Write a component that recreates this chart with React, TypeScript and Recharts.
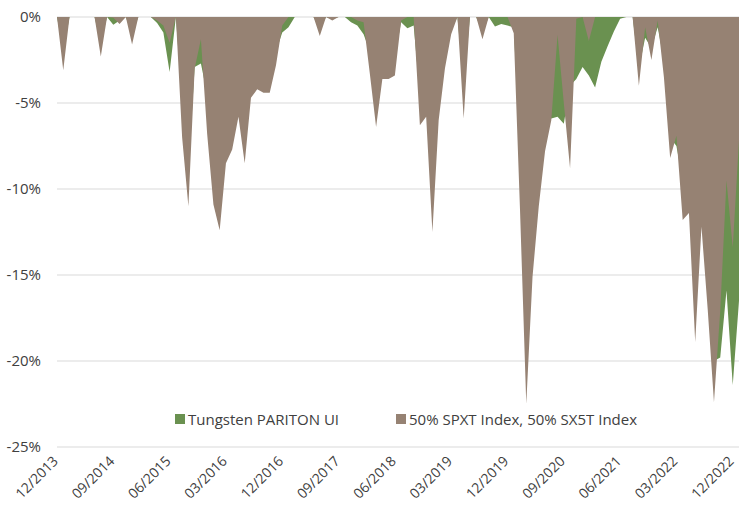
import React from 'react';
import { AreaChart, Area, XAxis, YAxis, CartesianGrid, Legend } from 'recharts';

const dates = [
  '12/2013',
  '01/2014', '02/2014', '03/2014', '04/2014', '05/2014', '06/2014', '07/2014', '08/2014', '09/2014', '10/2014', '11/2014', '12/2014',
  '01/2015', '02/2015', '03/2015', '04/2015', '05/2015', '06/2015', '07/2015', '08/2015', '09/2015', '10/2015', '11/2015', '12/2015',
  '01/2016', '02/2016', '03/2016', '04/2016', '05/2016', '06/2016', '07/2016', '08/2016', '09/2016', '10/2016', '11/2016', '12/2016',
  '01/2017', '02/2017', '03/2017', '04/2017', '05/2017', '06/2017', '07/2017', '08/2017', '09/2017', '10/2017', '11/2017', '12/2017',
  '01/2018', '02/2018', '03/2018', '04/2018', '05/2018', '06/2018', '07/2018', '08/2018', '09/2018', '10/2018', '11/2018', '12/2018',
  '01/2019', '02/2019', '03/2019', '04/2019', '05/2019', '06/2019', '07/2019', '08/2019', '09/2019', '10/2019', '11/2019', '12/2019',
  '01/2020', '02/2020', '03/2020', '04/2020', '05/2020', '06/2020', '07/2020', '08/2020', '09/2020', '10/2020', '11/2020', '12/2020',
  '01/2021', '02/2021', '03/2021', '04/2021', '05/2021', '06/2021', '07/2021', '08/2021', '09/2021', '10/2021', '11/2021', '12/2021',
  '01/2022', '02/2022', '03/2022', '04/2022', '05/2022', '06/2022', '07/2022', '08/2022', '09/2022', '10/2022', '11/2022', '12/2022',
  '01/2023',
];

// Tungsten PARITON UI drawdown (%)
const pariton = [
  0,
  -2.0, 0, 0, 0, 0, 0, -1.5, 0, -0.45, -0.2, 0, -1.0,
  0, 0, 0, -0.35, -0.9, -3.2, 0, -5.0, -9.0, -2.9, -2.7, -4.5,
  -8.5, -10.0, -7.0, -6.0, -4.5, -6.5, -3.8, -3.4, -3.5, -3.3, -2.0, -0.9,
  -0.6, 0, 0, 0, 0, -0.7, 0, -0.1, 0, 0, -0.3, -0.5,
  -1.0, -2.0, -4.5, -2.5, -2.5, -2.3, -0.3, -0.65, -0.5, -4.5, -4.2, -9.0,
  -4.5, -2.2, -0.7, 0, -4.0, 0, 0, -0.9, 0, -0.55, -0.4, -0.5,
  -0.6, -8.0, -17.0, -11.0, -8.0, -6.0, -5.9, -5.8, -6.2, -4.0, -3.6, -2.9,
  -3.4, -4.1, -2.6, -1.7, -0.85, -0.1, 0, 0, -3.0, -1.2, -1.8, -0.6,
  -2.5, -7.0, -7.5, -9.5, -9.0, -15.0, -11.0, -15.5, -20.0, -19.8, -15.9, -21.4,
  -16.5,
];

// 50% SPXT Index, 50% SX5T Index drawdown (%)
const benchmark = [
  0,
  -3.1, 0, 0, 0, 0, 0, -2.3, 0, -0.05, -0.4, 0, -1.6,
  0, 0, 0, -0.2, -0.5, -1.5, 0, -7.0, -11.0, -3.0, -1.3, -6.8,
  -10.9, -12.4, -8.5, -7.7, -5.8, -8.5, -4.7, -4.2, -4.4, -4.4, -2.8, -0.5,
  0, 0, 0, 0, 0, -1.1, 0, -0.2, 0, 0, 0, -0.2,
  -0.3, -3.3, -6.4, -3.6, -3.6, -3.4, -0.2, 0, 0, -6.3, -5.8, -12.5,
  -6.0, -3.0, -1.0, 0, -5.9, 0, 0, -1.3, 0, 0, 0, 0,
  -0.95, -11.2, -22.5, -15.1, -11.0, -7.8, -6.0, -1.05, -5.0, -8.8, -0.1, 0,
  -1.4, 0, 0, 0, 0, 0, 0, 0, -4.0, -0.6, -2.5, -0.2,
  -3.5, -8.2, -6.9, -11.8, -11.4, -18.9, -12.2, -17.0, -22.4, -17.1, -9.5, -13.4,
  -7.2,
];

const yTicks = [0, -5, -10, -15, -20, -25];

const GREEN = '#6a9150';
const BROWN = '#968273';
const TEXT = '#404040';
const GRID = '#d9d9d9';
const FONT = "'Open Sans', sans-serif";

const data = dates.map((d, i) => ({ date: d, pariton: pariton[i], benchmark: benchmark[i] }));

const XTick = (props: any) => {
  const { x, y, payload } = props;
  return (
    <g transform={`translate(${x + 2},${y + 15})`}>
      <text textAnchor="end" transform="rotate(-45)" fill={TEXT} fontSize={14} fontFamily={FONT}>
        {payload.value}
      </text>
    </g>
  );
};

const legendItems = [
  { key: 'pariton', name: 'Tungsten PARITON UI', color: GREEN, left: 0 },
  { key: 'benchmark', name: '50% SPXT Index, 50% SX5T Index', color: BROWN, left: 221 },
];

const LegendContent = () => (
  <div style={{ position: 'relative', width: 480, height: 20, fontFamily: FONT, fontSize: 15, color: TEXT, lineHeight: '20px' }}>
    {legendItems.map((it) => (
      <div key={it.key} style={{ position: 'absolute', left: it.left, top: 0, display: 'flex', alignItems: 'center', whiteSpace: 'nowrap' }}>
        <span style={{ display: 'inline-block', width: 10, height: 10, background: it.color, marginRight: 3 }} />
        <span>{it.name}</span>
      </div>
    ))}
  </div>
);

export default function App() {
  return (
    <div style={{ position: 'absolute', left: 0, top: 0, width: 740, height: 512, background: '#fff' }}>
      <AreaChart width={740} height={512} data={data} margin={{ top: 17, right: 1, bottom: 0, left: 0 }}>
        <CartesianGrid horizontal vertical={false} stroke={GRID} strokeWidth={1} />
        <YAxis
          type="number"
          domain={[-25, 0]}
          ticks={yTicks}
          width={57}
          axisLine={false}
          tickLine={false}
          tickSize={0}
          tickMargin={16}
          tickFormatter={(v: number) => `${v}%`}
          tick={{ fill: TEXT, fontSize: 15, fontFamily: FONT }}
        />
        <XAxis
          dataKey="date"
          interval={8}
          height={65}
          axisLine={false}
          tickLine={false}
          tickSize={0}
          tickMargin={0}
          tick={<XTick />}
        />
        <XAxis
          xAxisId="top"
          dataKey="date"
          orientation="top"
          mirror
          height={0}
          interval={8}
          tickSize={4}
          stroke={GRID}
          tickFormatter={() => ''}
        />
        <Area
          type="linear"
          dataKey="pariton"
          name="Tungsten PARITON UI"
          stroke="none"
          fill={GREEN}
          fillOpacity={1}
          baseValue={0}
          isAnimationActive={false}
        />
        <Area
          type="linear"
          dataKey="benchmark"
          name="50% SPXT Index, 50% SX5T Index"
          stroke="none"
          fill={BROWN}
          fillOpacity={1}
          baseValue={0}
          isAnimationActive={false}
        />
        <Legend
          layout="horizontal"
          verticalAlign="middle"
          align="center"
          content={<LegendContent />}
          wrapperStyle={{ position: 'absolute', left: 175, top: 409, width: 480, height: 20 }}
        />
      </AreaChart>
    </div>
  );
}
